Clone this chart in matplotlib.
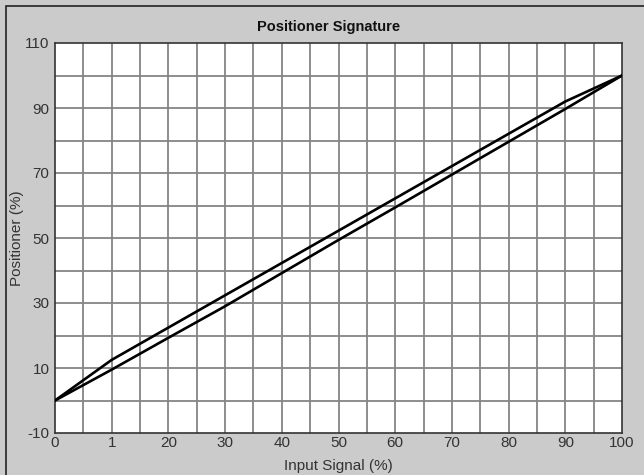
import matplotlib.pyplot as plt
import matplotlib.patches as patches
import numpy as np

plt.rcParams["font.family"] = ["Liberation Sans", "DejaVu Sans"]
plt.rcParams["axes.unicode_minus"] = False

# input signal (%) and the two positioner traces (hysteresis loop)
x_up = [0, 10, 90, 100]
y_up = [0, 12.5, 92, 100]
x_down = [0, 10, 20, 30, 40, 50, 60, 70, 80, 90, 100]
y_down = [0, 9.5, 19.3, 29, 39.2, 49.4, 59.4, 69.5, 79.6, 89.7, 100]

x_ticks = [0, 10, 20, 30, 40, 50, 60, 70, 80, 90, 100]
x_ticklabels = ["0", "1", "20", "30", "40", "50", "60", "70", "80", "90", "100"]
y_ticks = [-10, 10, 30, 50, 70, 90, 110]

BG = "#cbcbcb"
GRID = "#858585"
TXT = "#333333"

fig = plt.figure(figsize=(6.44, 4.75), dpi=100, facecolor=BG)
ax = fig.add_axes([55 / 644, 1 - 433 / 475, 567 / 644, 390 / 475])
ax.set_facecolor("white")

# outer frame (only left and top edges fall inside the picture)
fig.patches.append(patches.Rectangle((6 / 644, -0.1), 1.2, 1 - 6 / 475 + 0.1,
                                     transform=fig.transFigure, fill=False,
                                     edgecolor="#222222", linewidth=1.2))

for v in np.arange(5, 100, 5):
    ax.axvline(v, color=GRID, lw=1.3, zorder=1)
for v in np.arange(0, 110, 10):
    ax.axhline(v, color=GRID, lw=1.3, zorder=1)

ax.plot(x_up, y_up, color="black", lw=1.9, zorder=3)
ax.plot(x_down, y_down, color="black", lw=1.9, zorder=3)

ax.set_xlim(0, 100)
ax.set_ylim(-10, 110)
ax.set_xticks(x_ticks, x_ticklabels)
ax.set_yticks(y_ticks)
ax.tick_params(length=0, labelsize=11, colors=TXT)
ax.tick_params(axis="x", pad=2)
ax.tick_params(axis="y", pad=4)
for s in ax.spines.values():
    s.set_color("#333333")
    s.set_linewidth(1.2)

ax.set_xlabel("Input Signal (%)", fontsize=11, color=TXT)
ax.set_ylabel("Positioner (%)", fontsize=11, color=TXT)
ax.xaxis.set_label_coords(0.5, (433 - 466) / 390, transform=ax.transAxes)
ax.yaxis.set_label_coords((17 - 55) / 567, 0.5, transform=ax.transAxes)
ax.xaxis.label.set_va("center")
ax.yaxis.label.set_va("center")
fig.text(329 / 644, 1 - 27 / 475, "Positioner Signature", ha="center", va="center",
         fontsize=10.5, fontweight="bold", color="#111111")

fig.savefig("out.png", dpi=100, facecolor=BG)
